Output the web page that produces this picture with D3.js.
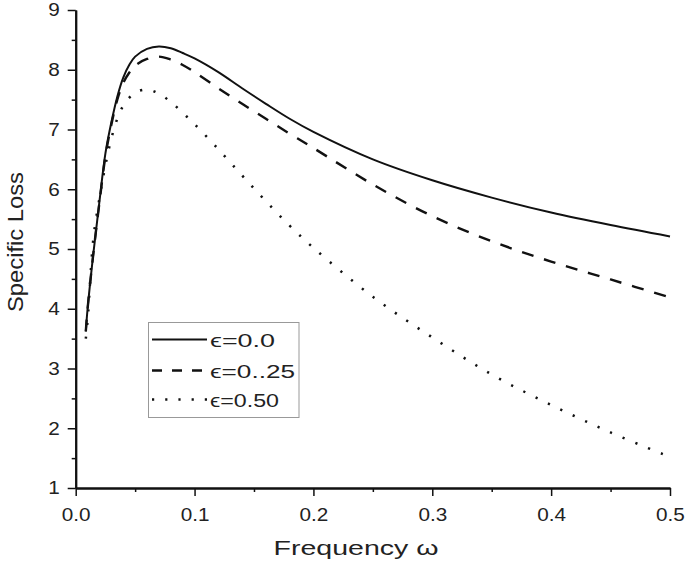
<!DOCTYPE html>
<html><head><meta charset="utf-8">
<script src="https://cdn.jsdelivr.net/npm/d3@7"></script>
<style>body{margin:0;background:#fff}svg{display:block}</style>
</head><body>
<svg id="c" width="685" height="566"></svg>
<script>
const freq = [0.0085,0.01,0.015,0.02,0.025,0.03,0.035,0.04,0.045,0.05,0.06,0.07,0.08,0.09,0.1,0.12,0.14,0.16,0.18,0.2,0.25,0.3,0.35,0.4,0.45,0.5];
const eps00 = [3.62,4.0,4.95,5.8,6.6,7.12,7.55,7.87,8.08,8.22,8.35,8.39,8.36,8.28,8.19,7.96,7.69,7.43,7.18,6.96,6.5,6.15,5.86,5.61,5.4,5.21];
const eps025 = [3.62,4.0,4.95,5.78,6.55,7.08,7.5,7.78,7.95,8.07,8.18,8.22,8.17,8.08,7.96,7.69,7.43,7.18,6.93,6.69,6.08,5.55,5.13,4.79,4.49,4.19];
const eps050 = [3.5,3.8,5.2,5.85,6.4,6.85,7.18,7.4,7.53,7.62,7.67,7.6,7.46,7.28,7.09,6.67,6.23,5.8,5.39,5.02,4.2,3.52,2.9,2.39,1.93,1.52];
const seriesNames = ["\u03f5=0.0","\u03f5=0..25","\u03f5=0.50"];
const xTicks = [0,0.1,0.2,0.3,0.4,0.5];
const xTickLabels = ["0.0","0.1","0.2","0.3","0.4","0.5"];
const yTicks = [1,2,3,4,5,6,7,8,9];

const svg = d3.select("#c");
const x = d3.scaleLinear().domain([0,0.5]).range([75.7,670]);
const y = d3.scaleLinear().domain([1,9]).range([488,10]);
const font = "Liberation Sans, Arial, sans-serif";
const WIDEN = 1.15;

const styles = [
  {w:2, dash:null},
  {w:2.4, dash:"12,11"},
  {w:2.5, dash:"2.2,11.5"}
];
const allSeries = [eps00, eps025, eps050];
const line = d3.line().x(d=>x(d[0])).y(d=>y(d[1])).curve(d3.curveCatmullRom.alpha(0.5));
allSeries.forEach((vals,i)=>{
  svg.append("path").datum(freq.map((f,j)=>[f,vals[j]]))
    .attr("d",line).attr("fill","none").attr("stroke","#111")
    .attr("stroke-width",styles[i].w)
    .attr("stroke-dasharray",styles[i].dash);
});

function widen(sel){
  sel.each(function(){
    const L = this.getComputedTextLength();
    if (L>0) d3.select(this).attr("textLength", L*WIDEN).attr("lengthAdjust","spacingAndGlyphs");
  });
}
function styleAxis(g){
  g.select(".domain").attr("stroke","#111").attr("stroke-width",2);
  g.selectAll(".tick line").attr("stroke","#111").attr("stroke-width",1.5);
  g.selectAll(".tick text").attr("fill","#222").style("font-family",font).style("font-size","18px");
  widen(g.selectAll(".tick text"));
}
const gxMinor = svg.append("g").attr("transform","translate(0,488)")
  .call(d3.axisBottom(x).tickValues(d3.range(0.05,0.5,0.1)).tickFormat("").tickSize(4).tickSizeOuter(0));
styleAxis(gxMinor);
const gyMinor = svg.append("g").attr("transform","translate(75.7,0)")
  .call(d3.axisLeft(y).tickValues(d3.range(1.5,9,1)).tickFormat("").tickSize(4).tickSizeOuter(0));
styleAxis(gyMinor);
const gx = svg.append("g").attr("transform","translate(0,488)")
  .call(d3.axisBottom(x).tickValues(xTicks).tickFormat((d,i)=>xTickLabels[i]).tickSize(8).tickSizeOuter(0).tickPadding(12));
styleAxis(gx);
const gy = svg.append("g").attr("transform","translate(75.7,0)")
  .call(d3.axisLeft(y).tickValues(yTicks).tickFormat(d3.format("d")).tickSize(8).tickSizeOuter(0).tickPadding(8));
styleAxis(gy);

svg.append("text").attr("x",356).attr("y",555).attr("text-anchor","middle")
  .style("font-family",font).style("font-size","21px").attr("fill","#222")
  .attr("textLength",165).attr("lengthAdjust","spacingAndGlyphs").text("Frequency \u03c9");
svg.append("text").attr("transform","translate(23,242) rotate(-90)").attr("text-anchor","middle")
  .style("font-family",font).style("font-size","22px").attr("fill","#222")
  .attr("textLength",140).attr("lengthAdjust","spacingAndGlyphs").text("Specific Loss");

// legend
const lg = svg.append("g");
lg.append("rect").attr("x",148.5).attr("y",322.5).attr("width",150.5).attr("height",95)
  .attr("fill","#fff").attr("stroke","#999").attr("stroke-width",1);
const rowsY = [339.5,370.5,399.5];
const legendLens = [65,85,69];
seriesNames.forEach((n,i)=>{
  lg.append("line").attr("x1",152).attr("x2",207).attr("y1",rowsY[i]).attr("y2",rowsY[i])
    .attr("stroke","#111").attr("stroke-width",styles[i].w)
    .attr("stroke-dasharray", i===1?"10,10":(i===2?"2.2,11":null));
  lg.append("text").attr("x",210).attr("y",rowsY[i]+7).style("font-family",font)
    .style("font-size","19px").attr("fill","#222")
    .attr("textLength",legendLens[i]).attr("lengthAdjust","spacingAndGlyphs").text(n);
});
</script>
</body></html>
